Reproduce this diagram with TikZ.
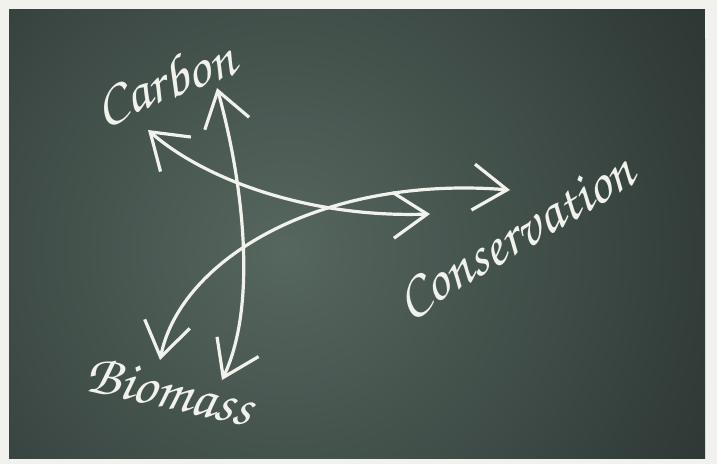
\documentclass[tikz,border=0pt]{standalone}
\usepackage[T1,TU]{fontenc}
\usepackage{xcolor}
\usepackage{tikz}
\usetikzlibrary{arrows.meta}

\definecolor{boardmid}{HTML}{56675F}
\definecolor{boarddark}{HTML}{2E3835}
\definecolor{boardframe}{HTML}{F1F1EE}
\definecolor{chalk}{HTML}{F2F2EC}
\newcommand\chalkfont{\fontencoding{T1}\fontfamily{pzc}\fontseries{mb}\fontshape{it}\selectfont}

\begin{document}
\begin{tikzpicture}[
  x=1pt,y=-1pt,
  chalk line/.style={draw=chalk,line width=3.2pt,line cap=round},
  both tips/.style={{Straight Barb[length=34pt,width=46pt,line width=3.2pt]}-{Straight Barb[length=34pt,width=46pt,line width=3.2pt]}},
  word/.style={text=chalk,inner sep=0pt,font=\chalkfont\fontsize{58}{58}\selectfont}
]
\useasboundingbox (0,0) rectangle (717,464);

% frame and board
\fill[boardframe] (0,0) rectangle (717,464);
\begin{scope}
  \clip (9,9) rectangle (705,458);
  \fill[boarddark] (9,9) rectangle (705,458);
  \shade[inner color=boardmid,outer color=boarddark] (285,250) circle (470);
\end{scope}

% words
\node[word,rotate=21] (carbon) at (164,80) {Carbon};
\node[word,rotate=-12] (biomass) at (170,390) {Biomass};
\node[word,rotate=31] (conservation) at (515,236) {Conservation};

% arrow ends
\coordinate (carbon-a) at (148,130);
\coordinate (carbon-b) at (217,88);
\coordinate (biomass-a) at (160,360);
\coordinate (biomass-b) at (222,380);
\coordinate (cons-a) at (430,214);
\coordinate (cons-b) at (510,190);

% chalk arrows
\draw[chalk line,both tips] (carbon-a) .. controls (205,180) and (310,218) .. (cons-a);
\draw[chalk line,both tips] (carbon-b) .. controls (240,170) and (260,300) .. (biomass-b);
\draw[chalk line,both tips] (biomass-a) .. controls (180,260) and (320,175) .. (cons-b);

\end{tikzpicture}
\end{document}
